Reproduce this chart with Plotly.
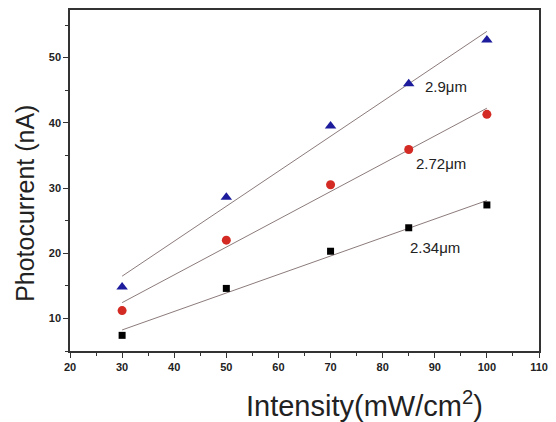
import numpy as np
import plotly.graph_objects as go

intensity = [30, 50, 70, 85, 100]
i_290 = [14.8, 28.6, 39.5, 46.0, 52.7]
i_272 = [11.2, 22.0, 30.5, 35.9, 41.3]
i_234 = [7.4, 14.6, 20.3, 23.9, 27.4]
labels = ["2.9μm", "2.72μm", "2.34μm"]
label_pos = [(87.7, 45.5), (86.0, 33.8), (84.9, 20.8)]
x_ticks = [20, 30, 40, 50, 60, 70, 80, 90, 100, 110]
y_ticks = [10, 20, 30, 40, 50]

series = [
    (i_290, "triangle-up", "#1c1c9c", 10),
    (i_272, "circle", "#d42a24", 9),
    (i_234, "square", "#000000", 7),
]

fig = go.Figure()
x = np.array(intensity, dtype=float)
for ys, sym, col, sz in series:
    y = np.array(ys)
    k, b = np.polyfit(x, y, 1)
    xf = np.array([x.min(), x.max()])
    fig.add_trace(go.Scatter(x=xf, y=k * xf + b, mode="lines",
                             line=dict(color="#8c7b7b", width=1), hoverinfo="skip"))
    fig.add_trace(go.Scatter(x=x, y=y, mode="markers",
                             marker=dict(symbol=sym, color=col, size=sz, line=dict(width=0))))

for txt, (lx, ly) in zip(labels, label_pos):
    fig.add_annotation(x=lx, y=ly, text=txt, showarrow=False, xanchor="left", yanchor="middle",
                       font=dict(family="Liberation Sans, Arial", size=15, color="#222"))

fig.add_annotation(xref="paper", yref="paper", x=(370 - 70) / 478, y=(351 - 404) / 341,
                   text="Intensity(mW/cm<sup>2</sup>)", showarrow=False,
                   xanchor="center", yanchor="middle",
                   font=dict(family="Liberation Sans, Arial", size=29, color="#222"))
fig.add_annotation(xref="paper", yref="paper", x=(24 - 70) / 478, y=(351 - 203) / 341,
                   text="Photocurrent (nA)", showarrow=False, textangle=-90,
                   xanchor="center", yanchor="middle",
                   font=dict(family="Liberation Sans, Arial", size=25, color="#222"))

axis_common = dict(showgrid=False, zeroline=False, showline=True, linecolor="#333", linewidth=1.5,
                   mirror=True, ticks="outside", ticklen=5, tickwidth=1.2, tickcolor="#333",
                   tickfont=dict(family="Liberation Sans, Arial", size=11, color="#222", weight="bold"))
fig.update_xaxes(range=[20, 110], tickvals=x_ticks,
                 minor=dict(dtick=5, ticks="outside", ticklen=3, tickcolor="#333"), **axis_common)
fig.update_yaxes(range=[5, 57.3], tickvals=y_ticks,
                 minor=dict(dtick=5, ticks="outside", ticklen=3, tickcolor="#333"), **axis_common)

fig.update_layout(width=556, height=422, showlegend=False, plot_bgcolor="white", paper_bgcolor="white",
                  margin=dict(l=70, r=8, t=10, b=71))
fig.write_html("out.html")
